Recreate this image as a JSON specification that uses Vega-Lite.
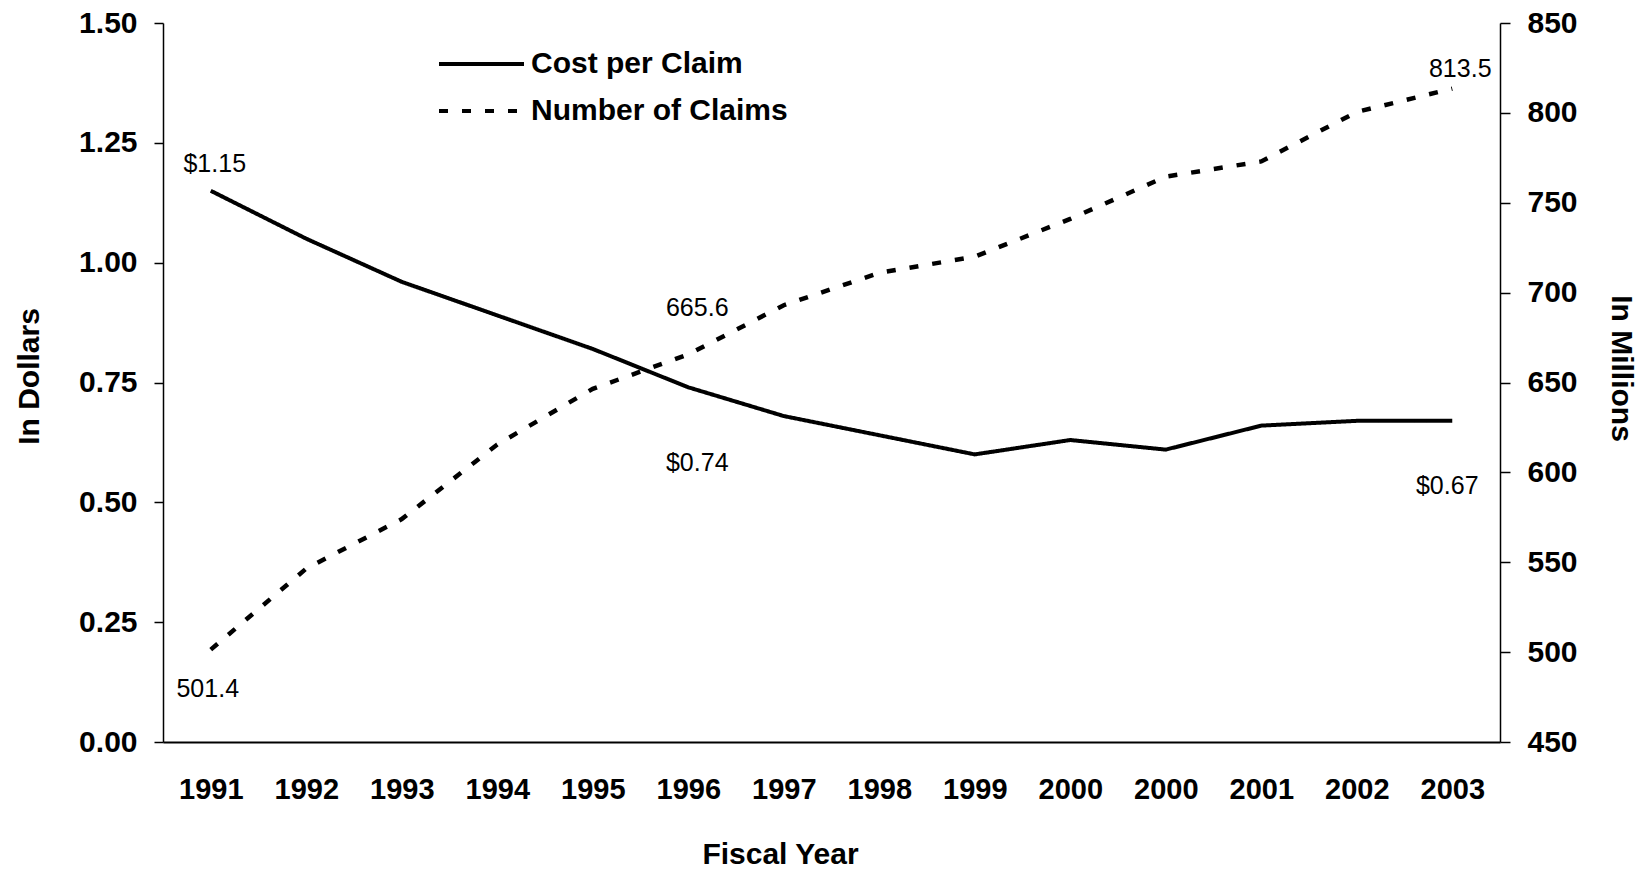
{
  "$schema": "https://vega.github.io/schema/vega-lite/v6.json",
  "width": 1337,
  "height": 719,
  "autosize": {"type": "none"},
  "padding": {"left": 163, "top": 23, "right": 137, "bottom": 127},
  "background": "white",
  "config": {
    "view": {"stroke": null},
    "font": "Liberation Sans",
    "axis": {
      "grid": false,
      "domainColor": "black",
      "domainWidth": 1.5,
      "tickColor": "black",
      "tickWidth": 1.5,
      "labelColor": "black",
      "labelFont": "Liberation Sans",
      "labelFontWeight": "bold",
      "labelFontSize": 30,
      "labelOverlap": false,
      "titleColor": "black",
      "titleFont": "Liberation Sans",
      "titleFontWeight": "bold",
      "titleFontSize": 30
    },
    "legend": {
      "labelFont": "Liberation Sans",
      "labelFontSize": 30,
      "labelFontWeight": "bold",
      "labelColor": "black",
      "labelLimit": 500
    }
  },
  "data": {
    "values": [
      {"period": "1991", "cost": 1.15, "claims": 501.4},
      {"period": "1992", "cost": 1.05, "claims": 546.5},
      {"period": "1993", "cost": 0.96, "claims": 574.0},
      {"period": "1994", "cost": 0.89, "claims": 615.5},
      {"period": "1995", "cost": 0.82, "claims": 646.5},
      {"period": "1996", "cost": 0.74, "claims": 665.6},
      {"period": "1997", "cost": 0.68, "claims": 693.0},
      {"period": "1998", "cost": 0.64, "claims": 711.0},
      {"period": "1999", "cost": 0.60, "claims": 720.0},
      {"period": "2000a", "cost": 0.63, "claims": 741.0},
      {"period": "2000b", "cost": 0.61, "claims": 764.5},
      {"period": "2001", "cost": 0.66, "claims": 773.0},
      {"period": "2002", "cost": 0.67, "claims": 800.5},
      {"period": "2003", "cost": 0.67, "claims": 813.5}
    ]
  },
  "encoding": {
    "x": {
      "field": "period",
      "type": "ordinal",
      "sort": null,
      "scale": {"type": "point", "padding": 0.5},
      "axis": {
        "title": "Fiscal Year",
        "labelExpr": "substring(datum.label, 0, 4)",
        "labelAngle": 0,
        "labelFontSize": 29,
        "labelPadding": 33,
        "ticks": false,
        "domainWidth": 2,
        "titleX": 617,
        "titleY": 112,
        "titleAlign": "center",
        "titleBaseline": "middle"
      }
    }
  },
  "layer": [
    {
      "encoding": {
        "y": {
          "field": "cost",
          "type": "quantitative",
          "scale": {"domain": [0, 1.5], "nice": false, "zero": false},
          "axis": {
            "orient": "left",
            "title": "In Dollars",
            "values": [0, 0.25, 0.5, 0.75, 1, 1.25, 1.5],
            "format": ".2f",
            "tickSize": 9,
            "labelPadding": 17,
            "titleAngle": 270,
            "titleX": -134,
            "titleY": 353,
            "titleAlign": "center",
            "titleBaseline": "middle"
          }
        }
      },
      "layer": [
        {
          "mark": {"type": "line", "color": "black", "strokeWidth": 4},
          "encoding": {
            "strokeDash": {
              "datum": "Cost per Claim",
              "type": "nominal",
              "scale": {"domain": ["Cost per Claim", "Number of Claims"], "range": [[1, 0], [9, 14]]},
              "legend": {
                "title": null,
                "orient": "none",
                "legendX": 306,
                "legendY": 26,
                "symbolType": "M-4.5,0H4",
                "symbolSize": 400,
                "symbolStrokeWidth": 4,
                "symbolStrokeColor": "black",
                "labelOffset": 32,
                "rowPadding": 17
              }
            }
          }
        },
        {
          "transform": [{"filter": "datum.period == '1991'"}],
          "mark": {"type": "text", "dx": 4, "dy": -27, "fontSize": 25, "color": "black", "font": "Liberation Sans"},
          "encoding": {"text": {"field": "cost", "type": "quantitative", "format": "$.2f"}}
        },
        {
          "transform": [{"filter": "datum.period == '1996'"}],
          "mark": {"type": "text", "dx": 9, "dy": 76, "fontSize": 25, "color": "black", "font": "Liberation Sans"},
          "encoding": {"text": {"field": "cost", "type": "quantitative", "format": "$.2f"}}
        },
        {
          "transform": [{"filter": "datum.period == '2003'"}],
          "mark": {"type": "text", "dx": -5, "dy": 65, "fontSize": 25, "color": "black", "font": "Liberation Sans"},
          "encoding": {"text": {"field": "cost", "type": "quantitative", "format": "$.2f"}}
        }
      ]
    },
    {
      "encoding": {
        "y": {
          "field": "claims",
          "type": "quantitative",
          "scale": {"domain": [450, 850], "nice": false, "zero": false},
          "axis": {
            "orient": "right",
            "title": "In Millions",
            "values": [450, 500, 550, 600, 650, 700, 750, 800, 850],
            "tickSize": 10,
            "labelPadding": 17,
            "titleAngle": 90,
            "titleX": 120,
            "titleY": 345,
            "titleAlign": "center",
            "titleBaseline": "middle"
          }
        }
      },
      "layer": [
        {
          "mark": {"type": "line", "color": "black", "strokeWidth": 4.5},
          "encoding": {
            "strokeDash": {"datum": "Number of Claims", "type": "nominal"}
          }
        },
        {
          "transform": [{"filter": "datum.period == '1991'"}],
          "mark": {"type": "text", "dx": -3, "dy": 39, "fontSize": 25, "color": "black", "font": "Liberation Sans"},
          "encoding": {"text": {"field": "claims", "type": "quantitative", "format": ".1f"}}
        },
        {
          "transform": [{"filter": "datum.period == '1996'"}],
          "mark": {"type": "text", "dx": 9, "dy": -46, "fontSize": 25, "color": "black", "font": "Liberation Sans"},
          "encoding": {"text": {"field": "claims", "type": "quantitative", "format": ".1f"}}
        },
        {
          "transform": [{"filter": "datum.period == '2003'"}],
          "mark": {"type": "text", "dx": 8, "dy": -20, "fontSize": 25, "color": "black", "font": "Liberation Sans"},
          "encoding": {"text": {"field": "claims", "type": "quantitative", "format": ".1f"}}
        }
      ]
    }
  ],
  "resolve": {"scale": {"y": "independent"}}
}
